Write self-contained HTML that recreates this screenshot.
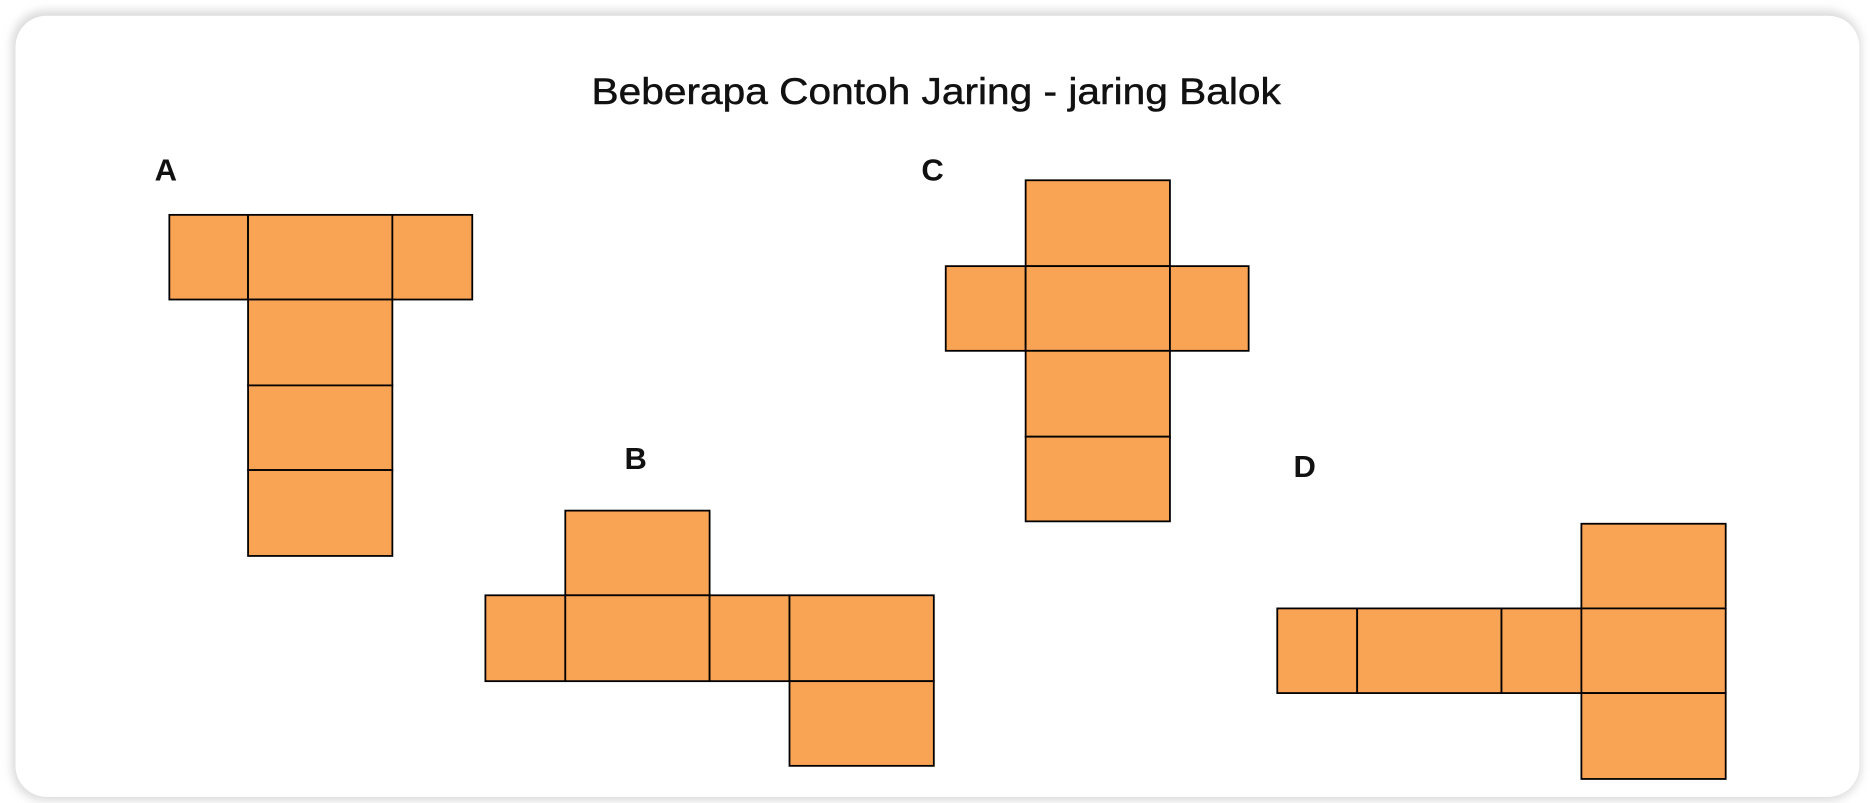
<!DOCTYPE html>
<html><head><style>
html,body{margin:0;padding:0;background:#fff;}
svg{display:block;}
text{font-family:"Liberation Sans",sans-serif;fill:#111;}
</style></head><body>
<svg width="1870" height="803" viewBox="0 0 1568 673" xmlns="http://www.w3.org/2000/svg">
<defs>
<filter id="sh" x="-5%" y="-5%" width="110%" height="110%">
<feGaussianBlur stdDeviation="4"/>
</filter>
</defs>
<rect x="0" y="0" width="1568" height="673" fill="#fff"/>
<rect x="10" y="9" width="1550" height="662" rx="28" fill="#d8d8d8" filter="url(#sh)"/>
<rect x="13" y="13" width="1546" height="655" rx="26" fill="#fff"/>
<text x="496" y="87" font-size="31" textLength="578" lengthAdjust="spacingAndGlyphs" stroke="#111" stroke-width="0.4">Beberapa Contoh Jaring - jaring Balok</text>
<text x="139" y="151" font-size="26" font-weight="bold" text-anchor="middle">A</text>
<text x="533" y="393" font-size="26" font-weight="bold" text-anchor="middle">B</text>
<text x="782" y="151" font-size="26" font-weight="bold" text-anchor="middle">C</text>
<text x="1094" y="400" font-size="26" font-weight="bold" text-anchor="middle">D</text>
<g fill="#F9A354" stroke="#000" stroke-width="1.5">
<rect x="142" y="180" width="66" height="71"/>
<rect x="208" y="180" width="121" height="71"/>
<rect x="329" y="180" width="67" height="71"/>
<rect x="208" y="251" width="121" height="72"/>
<rect x="208" y="323" width="121" height="71"/>
<rect x="208" y="394" width="121" height="72"/>
<rect x="474" y="428" width="121" height="71"/>
<rect x="407" y="499" width="67" height="72"/>
<rect x="474" y="499" width="121" height="72"/>
<rect x="595" y="499" width="67" height="72"/>
<rect x="662" y="499" width="121" height="72"/>
<rect x="662" y="571" width="121" height="71"/>
<rect x="860" y="151" width="121" height="72"/>
<rect x="793" y="223" width="67" height="71"/>
<rect x="860" y="223" width="121" height="71"/>
<rect x="981" y="223" width="66" height="71"/>
<rect x="860" y="294" width="121" height="72"/>
<rect x="860" y="366" width="121" height="71"/>
<rect x="1326" y="439" width="121" height="71"/>
<rect x="1071" y="510" width="67" height="71"/>
<rect x="1138" y="510" width="121" height="71"/>
<rect x="1259" y="510" width="67" height="71"/>
<rect x="1326" y="510" width="121" height="71"/>
<rect x="1326" y="581" width="121" height="72"/>
</g>
</svg>
</body></html>
